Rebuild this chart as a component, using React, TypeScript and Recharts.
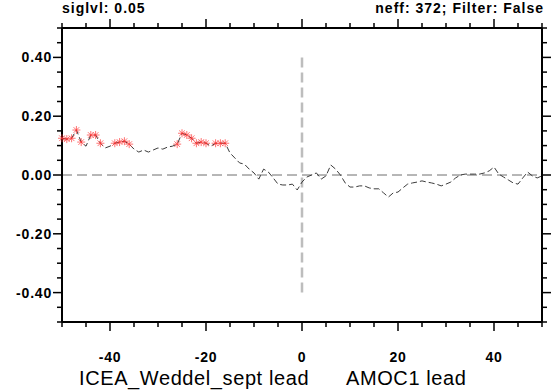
import { LineChart, Line, XAxis, YAxis, ReferenceLine } from "recharts";

// lag (months), AMOC1 vs ICEA_Weddel_sept
const lags = [
  -50, -49, -48, -47, -46, -45, -44, -43, -42, -41, -40, -39, -38, -37, -36, -35, -34,
  -33, -32, -31, -30, -29, -28, -27, -26, -25, -24, -23, -22, -21, -20, -19, -18, -17,
  -16, -15, -14, -13, -12, -11, -10, -9, -8, -7, -6, -5, -4, -3, -2, -1, 0, 1, 2, 3, 4,
  5, 6, 7, 8, 9, 10, 11, 12, 13, 14, 15, 16, 17, 18, 19, 20, 21, 22, 23, 24, 25, 26, 27,
  28, 29, 30, 31, 32, 33, 34, 35, 36, 37, 38, 39, 40, 41, 42, 43, 44, 45, 46, 47, 48, 49,
  50,
];

const corr = [
  0.125, 0.122, 0.125, 0.153, 0.112, 0.098, 0.136, 0.136, 0.108, 0.092, 0.098, 0.108,
  0.112, 0.115, 0.105, 0.088, 0.078, 0.085, 0.078, 0.085, 0.092, 0.088, 0.095, 0.098,
  0.105, 0.142, 0.136, 0.125, 0.108, 0.112, 0.108, 0.098, 0.108, 0.108, 0.108, 0.075,
  0.058, 0.041, 0.037, 0.02, 0.007, -0.014, 0.02, 0.01, -0.01, -0.031, -0.034, -0.034,
  -0.031, -0.051, -0.024, -0.007, 0.0, 0.007, -0.014, -0.003, 0.034, 0.02, 0.0, -0.027,
  -0.041, -0.041, -0.037, -0.037, -0.044, -0.047, -0.047, -0.061, -0.075, -0.061, -0.058,
  -0.044, -0.031, -0.027, -0.024, -0.02, -0.024, -0.027, -0.031, -0.037, -0.031, -0.024,
  -0.01, 0.0, 0.003, 0.003, 0.003, 0.003, 0.007, 0.014, 0.027, 0.003, -0.007, -0.017,
  -0.027, -0.031, -0.01, 0.01, -0.003, -0.01, -0.003,
];

// lags significant at siglvl 0.05
const sigLags = [
  -50, -49, -48, -47, -46, -44, -43, -42, -39, -38, -37, -36, -26, -25, -24, -23, -22,
  -21, -20, -18, -17, -16,
];

const xTicks = [-50, -45, -40, -35, -30, -25, -20, -15, -10, -5, 0, 5, 10, 15, 20, 25, 30, 35, 40, 45, 50];
const xLabels = [-40, -20, 0, 20, 40];
const yTicks = [
  -0.5, -0.45, -0.4, -0.35, -0.3, -0.25, -0.2, -0.15, -0.1, -0.05, 0, 0.05, 0.1, 0.15,
  0.2, 0.25, 0.3, 0.35, 0.4, 0.45, 0.5,
];
const yLabels = [-0.4, -0.2, 0, 0.2, 0.4];

const data = lags.map((lag, i) => ({ lag, r: corr[i], sig: sigLags.includes(lag) }));

const FONT = "'Liberation Sans', Arial, Helvetica, sans-serif";
const MAJOR = 9;
const MINOR = 5;

function isXMajor(v: number) {
  return xLabels.includes(v);
}
function isYMajor(v: number) {
  return yLabels.some((l) => Math.abs(l - v) < 1e-6);
}

function BottomTick(props: any) {
  const { x, y, payload } = props;
  const major = isXMajor(payload.value);
  return (
    <g>
      <line x1={x} x2={x} y1={y} y2={y + (major ? MAJOR : MINOR)} stroke="#000" strokeWidth={1.5} />
      {major && (
        <text x={x} y={y + 40} textAnchor="middle" fontFamily={FONT} fontWeight="bold" fontSize={14} letterSpacing={0.8} fill="#000">
          {payload.value}
        </text>
      )}
    </g>
  );
}

function TopTick(props: any) {
  const { x, y, payload } = props;
  const major = isXMajor(payload.value);
  return <line x1={x} x2={x} y1={y} y2={y - (major ? MAJOR : MINOR)} stroke="#000" strokeWidth={1.5} />;
}

function LeftTick(props: any) {
  const { x, y, payload } = props;
  const major = isYMajor(payload.value);
  return (
    <g>
      <line x1={x} x2={x - (major ? MAJOR : MINOR)} y1={y} y2={y} stroke="#000" strokeWidth={1.5} />
      {major && (
        <text x={x - 10} y={y + 5} textAnchor="end" fontFamily={FONT} fontWeight="bold" fontSize={14} letterSpacing={0.8} fill="#000">
          {payload.value.toFixed(2)}
        </text>
      )}
    </g>
  );
}

function RightTick(props: any) {
  const { x, y, payload } = props;
  const major = isYMajor(payload.value);
  return <line x1={x} x2={x + (major ? MAJOR : MINOR)} y1={y} y2={y} stroke="#000" strokeWidth={1.5} />;
}

function StarDot(props: any) {
  const { cx, cy, payload, index } = props;
  if (!payload.sig) return <g key={`d-${index}`} />;
  const r = 4;
  const d = r * 0.7071;
  return (
    <g key={`d-${index}`} stroke="#ff3030" strokeWidth={0.8} strokeOpacity={0.85}>
      <line x1={cx} x2={cx} y1={cy - r} y2={cy + r} />
      <line x1={cx - r} x2={cx + r} y1={cy} y2={cy} />
      <line x1={cx - d} x2={cx + d} y1={cy - d} y2={cy + d} />
      <line x1={cx - d} x2={cx + d} y1={cy + d} y2={cy - d} />
    </g>
  );
}

export default function App() {
  return (
    <div style={{ position: "absolute", left: 0, top: 0, width: 553, height: 390, background: "#fff" }}>
      <LineChart width={553} height={390} data={data} margin={{ top: 27, right: 10, bottom: 0, left: 0 }}>
        <XAxis
          xAxisId="b"
          dataKey="lag"
          type="number"
          domain={[-50, 50]}
          ticks={xTicks}
          interval={0}
          height={68}
          tickSize={0}
          tickMargin={0}
          tickLine={false}
          axisLine={{ stroke: "#000", strokeWidth: 2 }}
          tick={(p: any) => <BottomTick {...p} />}
        />
        <XAxis
          xAxisId="t"
          orientation="top"
          dataKey="lag"
          type="number"
          domain={[-50, 50]}
          ticks={xTicks}
          interval={0}
          height={1}
          tickSize={0}
          tickMargin={0}
          tickLine={false}
          axisLine={{ stroke: "#000", strokeWidth: 2 }}
          tick={(p: any) => <TopTick {...p} />}
        />
        <YAxis
          yAxisId="l"
          type="number"
          domain={[-0.5, 0.5]}
          ticks={yTicks}
          interval={0}
          width={62}
          tickSize={0}
          tickMargin={0}
          tickLine={false}
          axisLine={{ stroke: "#000", strokeWidth: 2 }}
          tick={(p: any) => <LeftTick {...p} />}
        />
        <YAxis
          yAxisId="r"
          orientation="right"
          type="number"
          domain={[-0.5, 0.5]}
          ticks={yTicks}
          interval={0}
          width={1}
          tickSize={0}
          tickMargin={0}
          tickLine={false}
          axisLine={{ stroke: "#000", strokeWidth: 2 }}
          tick={(p: any) => <RightTick {...p} />}
        />
        <ReferenceLine xAxisId="b" yAxisId="l" y={0} stroke="#6e6e6e" strokeWidth={1} strokeDasharray="10 5" />
        <ReferenceLine
          xAxisId="b"
          yAxisId="l"
          segment={[
            { x: 0, y: 0.4 },
            { x: 0, y: -0.4 },
          ]}
          stroke="#bdbdbd"
          strokeWidth={2.5}
          strokeDasharray="10 5"
        />
        {/* invisible series so the top and right frame axes are drawn */}
        <Line
          xAxisId="t"
          yAxisId="r"
          type="linear"
          dataKey="r"
          stroke="none"
          strokeOpacity={0}
          dot={false}
          activeDot={false}
          isAnimationActive={false}
        />
        <Line
          xAxisId="b"
          yAxisId="l"
          type="linear"
          dataKey="r"
          stroke="#3c3c3c"
          strokeWidth={1}
          strokeDasharray="6 3"
          dot={(p: any) => <StarDot {...p} key={`d-${p.index}`} />}
          activeDot={false}
          isAnimationActive={false}
        />
      </LineChart>
      <svg width={553} height={390} style={{ position: "absolute", left: 0, top: 0, pointerEvents: "none" }}>
        <text x={62} y={13} fontFamily={FONT} fontWeight="bold" fontSize={14} letterSpacing={1} fill="#000">
          siglvl: 0.05
        </text>
        <text x={544} y={13} textAnchor="end" fontFamily={FONT} fontWeight="bold" fontSize={14} letterSpacing={1} fill="#000">
          neff: 372; Filter: False
        </text>
        <text x={79} y={385} fontFamily={FONT} fontSize={20} letterSpacing={0.6} fill="#000">
          ICEA_Weddel_sept lead
        </text>
        <text x={346} y={385} fontFamily={FONT} fontSize={20} letterSpacing={0.6} fill="#000">
          AMOC1 lead
        </text>
      </svg>
    </div>
  );
}
